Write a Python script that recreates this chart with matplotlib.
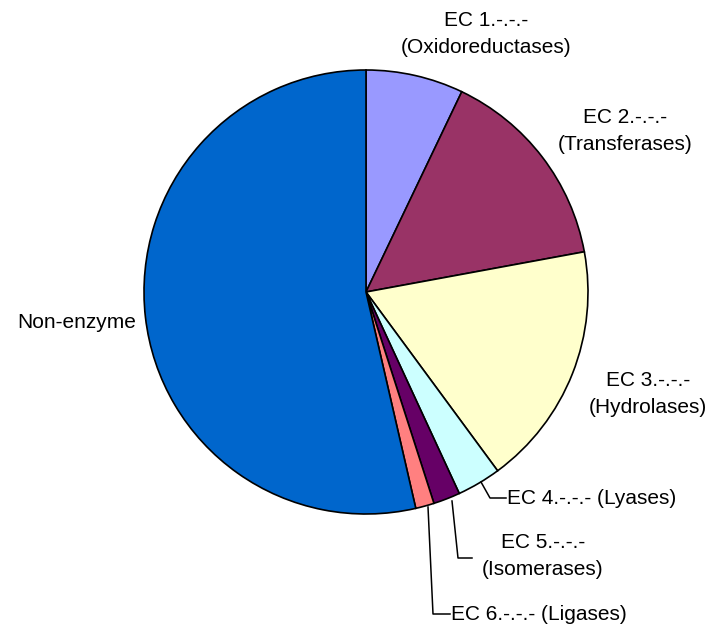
import matplotlib
matplotlib.use("Agg")
import matplotlib.pyplot as plt

plt.rcParams['font.family'] = ['Liberation Sans', 'DejaVu Sans']

categories = ["EC 1.-.-.-\n(Oxidoreductases)", "EC 2.-.-.-\n(Transferases)",
              "EC 3.-.-.-\n(Hydrolases)", "EC 4.-.-.- (Lyases)",
              "EC 5.-.-.-\n(Isomerases)", "EC 6.-.-.- (Ligases)", "Non-enzyme"]
values = [7.1, 15.0, 17.8, 3.2, 1.95, 1.35, 53.6]
colors = ["#9999FF", "#993366", "#FFFFCC", "#CCFFFF", "#660066", "#FF8080", "#0066CC"]

W, H = 715, 628
cx, cy, R = 366, 292, 222

def px(x, y):
    return ((x - cx) / R, (cy - y) / R)

fig = plt.figure(figsize=(W / 100, H / 100), dpi=100)
ax = fig.add_axes([0, 0, 1, 1])
ax.pie(values, colors=colors, startangle=90, counterclock=False, radius=1,
       wedgeprops=dict(edgecolor="black", linewidth=1.2))
ax.set_xlim(-cx / R, (W - cx) / R)
ax.set_ylim(-(H - cy) / R, cy / R)
ax.set_aspect('auto')
ax.axis('off')

fs = 15
ls = 1.55
ax.text(*px(486, 34), categories[0], ha='center', va='center', fontsize=fs, linespacing=ls)
ax.text(*px(625, 131), categories[1], ha='center', va='center', fontsize=fs, linespacing=ls)
ax.text(*px(648, 394), categories[2], ha='center', va='center', fontsize=fs, linespacing=ls)
ax.text(*px(507, 498), categories[3], ha='left', va='center', fontsize=fs)
ax.text(*px(543, 556), categories[4], ha='center', va='center', fontsize=fs, linespacing=ls)
ax.text(*px(451, 614), categories[5], ha='left', va='center', fontsize=fs)
ax.text(*px(136, 322), categories[6], ha='right', va='center', fontsize=fs)

leaders = [
    [(481, 482), (490, 498), (506, 498)],
    [(452, 501), (458, 558), (472, 558)],
    [(428, 507), (433, 614), (450, 614)],
]
for pts in leaders:
    xs, ys = zip(*[px(x, y) for x, y in pts])
    ax.plot(xs, ys, color="black", linewidth=1.1)

fig.savefig("out.png", dpi=100)
